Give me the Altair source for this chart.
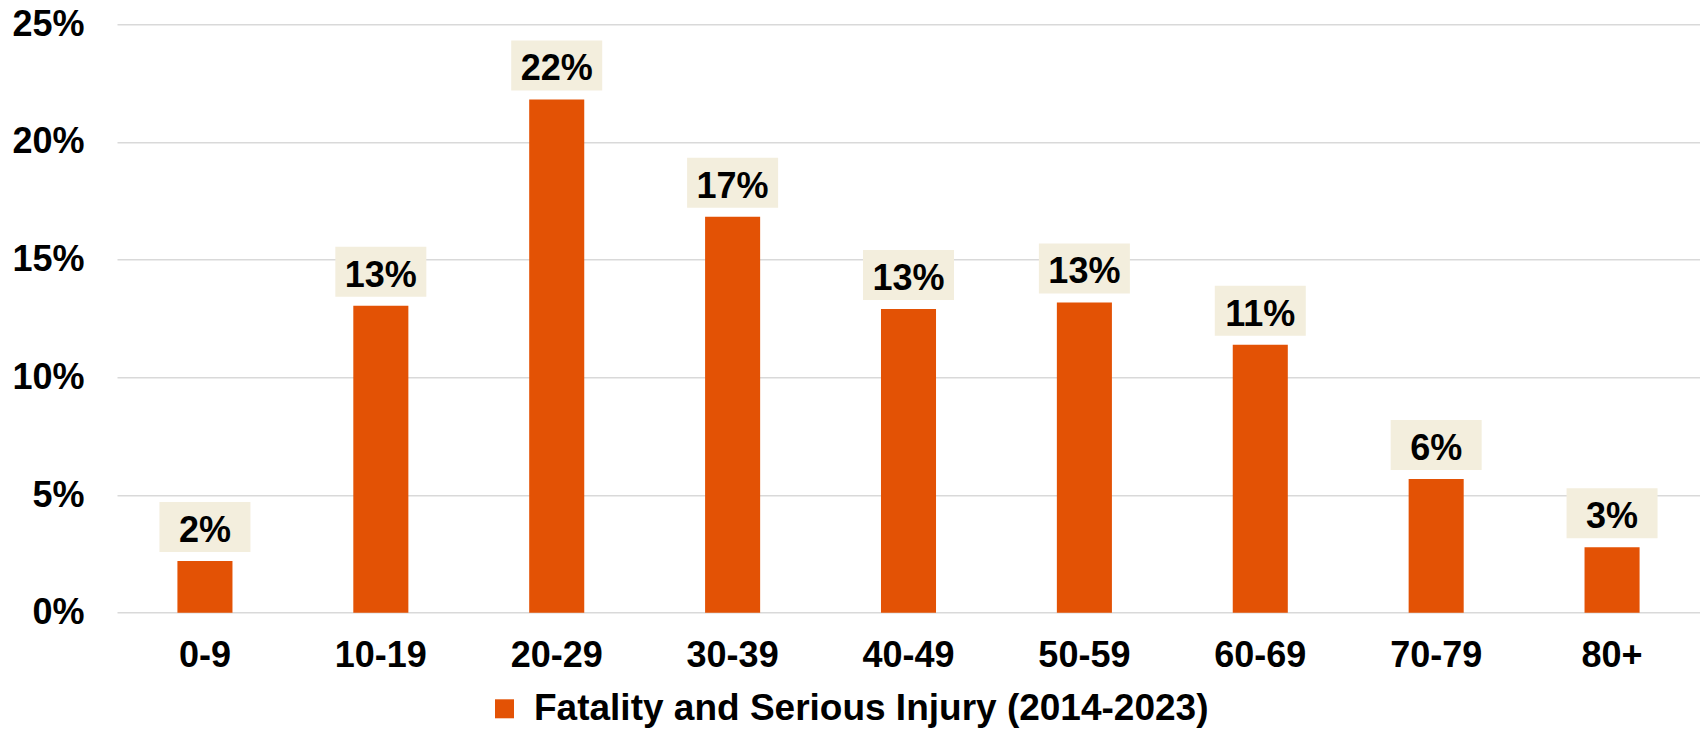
import altair as alt
import pandas as pd

age_groups = ["0-9", "10-19", "20-29", "30-39", "40-49", "50-59", "60-69", "70-79", "80+"]
share_pct = [2.2, 13.04, 21.81, 16.82, 12.9, 13.18, 11.38, 5.68, 2.78]
series_name = "Fatality and Serious Injury (2014-2023)"
y_ticks = [0, 0.05, 0.10, 0.15, 0.20, 0.25]

df = pd.DataFrame({
    "age": age_groups,
    "share": [v / 100 for v in share_pct],
    "series": [series_name] * len(age_groups),
})

FONT = "Liberation Sans"
BAR = "#E35205"
BOX = "#F3EEDD"

x = alt.X("age:N", sort=age_groups, title=None,
          scale=alt.Scale(paddingInner=0.687, paddingOuter=0.3435),
          axis=alt.Axis(labelAngle=0, labelFont=FONT, labelFontSize=36, labelFontWeight="bold",
                        labelColor="#000000", labelPadding=26, ticks=False, domain=False, grid=False))
y = alt.Y("share:Q", title=None,
          scale=alt.Scale(domain=[0, 0.25], nice=False),
          axis=alt.Axis(values=y_ticks, format=".0%", labelFont=FONT, labelFontSize=36,
                        labelFontWeight="bold", labelColor="#000000", labelPadding=33,
                        ticks=False, domain=False, grid=True, gridColor="#D9D9D9", gridWidth=1.5))

base = alt.Chart(df)

bars = base.mark_bar(color=BAR).encode(
    x=x, y=y,
    color=alt.Color("series:N", scale=alt.Scale(range=[BAR]),
                    legend=alt.Legend(title=None, orient="none", legendX=369, legendY=666,
                                      symbolType="square", symbolSize=361, symbolStrokeWidth=0,
                                      labelFont=FONT, labelFontSize=37, labelFontWeight="bold",
                                      labelColor="#000000", labelOffset=11, padding=0,
                                      labelLimit=1000)),
)

boxes = base.mark_rect(color=BOX, width=91, height=50, yOffset=-34).encode(
    x=alt.X("age:N", sort=age_groups), y=alt.Y("share:Q"))

labels = base.mark_text(font=FONT, fontSize=36, fontWeight="bold", color="#000000",
                        baseline="alphabetic", dy=-19).encode(
    x=alt.X("age:N", sort=age_groups), y=alt.Y("share:Q"),
    text=alt.Text("share:Q", format=".0%"))

chart = alt.layer(bars, boxes, labels).properties(
    width=1583, height=588.4,
    background="#FFFFFF",
    autosize=alt.AutoSizeParams(type="none"),
    padding={"left": 117, "top": 24.3, "right": 0, "bottom": 116.3},
).configure_view(stroke=None)

chart.save("out.html", embed_options={"renderer": "svg", "actions": False})
